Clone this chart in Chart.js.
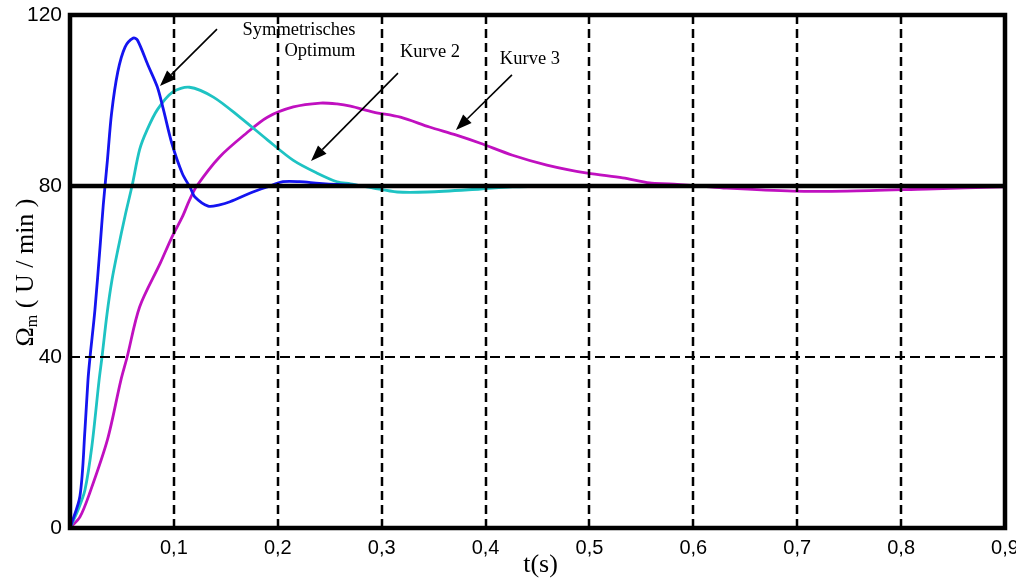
<!DOCTYPE html>
<html><head><meta charset="utf-8">
<script src="https://cdn.jsdelivr.net/npm/chart.js@4/dist/chart.umd.min.js"></script>
<style>html,body{margin:0;padding:0;background:#fff;}canvas{display:block;}</style>
</head><body>
<canvas id="c" width="1016" height="579"></canvas>
<script>
// ---- data ----
const xTicks = [0.1, 0.2, 0.3, 0.4, 0.5, 0.6, 0.7, 0.8, 0.9];
const yTicks = [0, 40, 80, 120];
const setpoint = 80;

const symT = [0, 0.0096, 0.0144, 0.0173, 0.0193, 0.024, 0.029, 0.032, 0.036, 0.040, 0.046, 0.053, 0.061, 0.065, 0.075, 0.084, 0.090, 0.098, 0.108, 0.116, 0.120, 0.133, 0.144, 0.154, 0.176, 0.190, 0.205, 0.221, 0.240, 0.270, 0.320, 0.900];
const symV = [0, 7.5, 23, 34.6, 40, 51, 66, 75.5, 86, 97, 106.7, 112.5, 114.6, 114.1, 108.3, 103.2, 97.8, 90, 83, 79.5, 77.5, 75.3, 75.6, 76.3, 78.6, 79.8, 81, 81, 80.6, 80.2, 80, 80];

const k2T = [0, 0.0077, 0.0144, 0.021, 0.028, 0.0308, 0.0356, 0.0404, 0.046, 0.053, 0.0597, 0.067, 0.074, 0.084, 0.099, 0.115, 0.138, 0.164, 0.190, 0.215, 0.238, 0.257, 0.270, 0.292, 0.315, 0.344, 0.395, 0.426, 0.500, 0.900];
const k2V = [0, 4.2, 8.9, 19, 34.6, 40, 50, 58, 65, 73, 80, 88.5, 93, 97.8, 102, 103.1, 100.8, 96, 90.8, 86, 83, 81, 80.5, 79.5, 78.6, 78.6, 79.3, 79.8, 80, 80];

const k3T = [0, 0.0096, 0.019, 0.036, 0.049, 0.055, 0.067, 0.087, 0.098, 0.108, 0.115, 0.122, 0.144, 0.170, 0.190, 0.215, 0.241, 0.257, 0.270, 0.292, 0.318, 0.346, 0.372, 0.395, 0.426, 0.459, 0.498, 0.532, 0.558, 0.577, 0.606, 0.632, 0.696, 0.748, 0.825, 0.900];
const k3V = [0, 2.6, 8.2, 20.6, 34.6, 40, 51.7, 62, 68, 72.7, 76.7, 80, 86.8, 92.4, 96.1, 98.5, 99.4, 99.2, 98.7, 97.3, 96.1, 93.8, 91.9, 90, 87.2, 84.9, 83, 81.9, 80.7, 80.5, 80, 79.5, 78.8, 78.8, 79.3, 79.8];

const xTitle = 't(s)';
const yTitleMain = 'Ω', yTitleSub = 'm', yTitleRest = ' ( U / min )';

const notes = [
  {text: 'Symmetrisches', t: 0.2204, v: 116.5},
  {text: 'Optimum', t: 0.2406, v: 111.6},
  {text: 'Kurve 2', t: 0.3465, v: 111.3},
  {text: 'Kurve 3', t: 0.4427, v: 109.7}
];
const arrows = [
  {t0: 0.1415, v0: 116.7, t1: 0.0866, v1: 103.4},
  {t0: 0.3157, v0: 106.4, t1: 0.2320, v1: 85.85},
  {t0: 0.4254, v0: 106.0, t1: 0.3715, v1: 93.1}
];

const pts = (ts, vs) => ts.map((t, i) => ({x: t, y: vs[i]}));

const SERIF = '"Liberation Serif", "Times New Roman", serif';
const SANS = '"Liberation Sans", Arial, sans-serif';

const decor = {
  id: 'decor',
  afterDatasetsDraw(chart) {
    const {ctx, chartArea: a, scales: {x, y}} = chart;
    ctx.save();
    ctx.strokeStyle = '#000';
    ctx.lineWidth = 2.5;
    ctx.setLineDash([9, 5]);
    xTicks.forEach(v => {
      if (v >= x.max) return;
      const px = Math.round(x.getPixelForValue(v));
      ctx.beginPath(); ctx.moveTo(px, a.top); ctx.lineTo(px, a.bottom); ctx.stroke();
    });
    yTicks.forEach(v => {
      if (v <= y.min || v >= y.max) return;
      const py = Math.round(y.getPixelForValue(v));
      if (v === setpoint) { ctx.setLineDash([]); ctx.lineWidth = 4.5; }
      else { ctx.setLineDash([10, 5]); ctx.lineWidth = 2; }
      ctx.beginPath(); ctx.moveTo(a.left, py); ctx.lineTo(a.right, py); ctx.stroke();
    });
    ctx.setLineDash([]);
    ctx.lineWidth = 4.5;
    ctx.strokeRect(a.left, a.top, a.right - a.left, a.bottom - a.top);
    ctx.restore();
  },
  afterDraw(chart) {
    const {ctx, chartArea: a, scales: {x, y}} = chart;
    ctx.save();
    ctx.fillStyle = '#000';
    ctx.strokeStyle = '#000';
    ctx.font = '18.5px ' + SERIF;
    ctx.textAlign = 'center';
    ctx.textBaseline = 'middle';
    notes.forEach(n => ctx.fillText(n.text, x.getPixelForValue(n.t), y.getPixelForValue(n.v)));
    arrows.forEach(ar => {
      const x0 = x.getPixelForValue(ar.t0), y0 = y.getPixelForValue(ar.v0);
      const x1 = x.getPixelForValue(ar.t1), y1 = y.getPixelForValue(ar.v1);
      const ang = Math.atan2(y1 - y0, x1 - x0);
      const L = 16, W = 6;
      const bx = x1 - L * Math.cos(ang), by = y1 - L * Math.sin(ang);
      ctx.lineWidth = 1.6;
      ctx.beginPath(); ctx.moveTo(x0, y0); ctx.lineTo(bx, by); ctx.stroke();
      ctx.beginPath();
      ctx.moveTo(x1, y1);
      ctx.lineTo(bx + W * Math.sin(ang), by - W * Math.cos(ang));
      ctx.lineTo(bx - W * Math.sin(ang), by + W * Math.cos(ang));
      ctx.closePath(); ctx.fill();
    });
    ctx.font = '26px ' + SERIF;
    ctx.textAlign = 'center';
    ctx.textBaseline = 'middle';
    ctx.fillText(xTitle, (a.left + a.right) / 2 + 3, a.bottom + 37);
    const cx = a.left - 46, cy = (a.top + a.bottom) / 2 + 1;
    ctx.translate(cx, cy);
    ctx.rotate(-Math.PI / 2);
    const fMain = '26px ' + SERIF, fSub = '16px ' + SERIF;
    ctx.font = fMain; const w1 = ctx.measureText(yTitleMain).width;
    const w3 = ctx.measureText(yTitleRest).width;
    ctx.font = fSub; const w2 = ctx.measureText(yTitleSub).width;
    let sx = -(w1 + w2 + w3) / 2;
    ctx.textAlign = 'left'; ctx.textBaseline = 'alphabetic';
    const base = 9;
    ctx.font = fMain; ctx.fillText(yTitleMain, sx, base); sx += w1;
    ctx.font = fSub; ctx.fillText(yTitleSub, sx, base + 4); sx += w2;
    ctx.font = fMain; ctx.fillText(yTitleRest, sx, base);
    ctx.restore();
  }
};

new Chart(document.getElementById('c'), {
  type: 'line',
  data: {
    datasets: [
      {label: 'Symmetrisches Optimum', data: pts(symT, symV), borderColor: '#1414f0', borderWidth: 2.8},
      {label: 'Kurve 2', data: pts(k2T, k2V), borderColor: '#1ec3c3', borderWidth: 2.8},
      {label: 'Kurve 3', data: pts(k3T, k3V), borderColor: '#c010c0', borderWidth: 2.8}
    ]
  },
  options: {
    responsive: false,
    devicePixelRatio: 1,
    animation: false,
    elements: {point: {radius: 0}, line: {tension: 0.3, fill: false}},
    layout: {padding: {top: 15, right: 11, left: 0, bottom: 0}},
    plugins: {legend: {display: false}, tooltip: {enabled: false}},
    scales: {
      x: {
        type: 'linear', min: 0, max: 0.9,
        afterBuildTicks: s => { s.ticks = [0, ...xTicks].map(v => ({value: v})); },
        afterFit: s => { s.height = 51; s.paddingLeft = 0; s.paddingRight = 0; },
        grid: {display: false, drawTicks: false},
        border: {display: false},
        ticks: {
          padding: 8, maxRotation: 0, autoSkip: false, color: '#000',
          font: {family: SANS, size: 20},
          callback: v => v === 0 ? '' : v.toFixed(1).replace('.', ',')
        }
      },
      y: {
        min: 0, max: 120,
        afterBuildTicks: s => { s.ticks = yTicks.map(v => ({value: v})); },
        afterFit: s => { s.width = 70; s.paddingTop = 0; s.paddingBottom = 0; },
        grid: {display: false, drawTicks: false},
        border: {display: false},
        ticks: {padding: 8, color: '#000', font: {family: SANS, size: 21}}
      }
    }
  },
  plugins: [decor]
});
</script>
</body></html>
